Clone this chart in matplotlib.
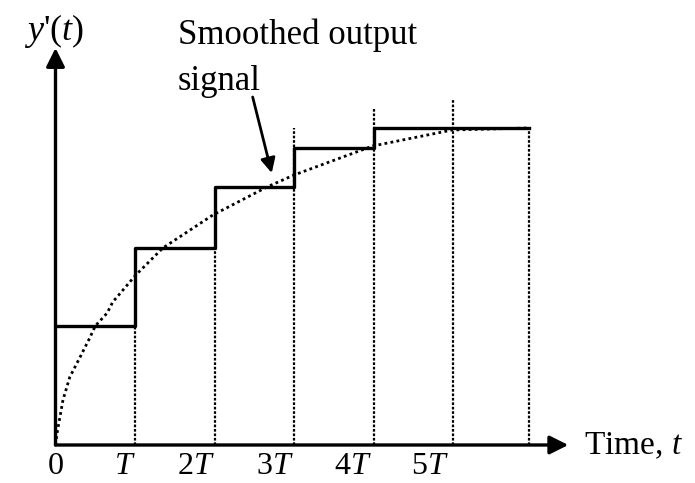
import matplotlib
matplotlib.use("Agg")
import matplotlib.pyplot as plt

plt.rcParams['font.family'] = ['Liberation Serif', 'DejaVu Serif']
plt.rcParams['mathtext.fontset'] = 'custom'
plt.rcParams['mathtext.rm'] = 'Liberation Serif'
plt.rcParams['mathtext.it'] = 'Liberation Serif:italic'

# dados (t em unidades de T)
tempos_degrau = [0, 1, 2, 3, 4, 5, 5.95]
niveis_degrau = [1.19, 1.97, 2.58, 2.97, 3.17, 3.17, 3.17]

# linhas verticais pontilhadas e seus topos
tempos_vert = [1, 2, 3, 4, 5, 5.95]
topos_vert = [1.19, 1.97, 3.17, 3.36, 3.46, 3.17]

# curva suavizada (pontos lidos)
t_curva = [0, 0.02, 0.094, 0.18, 0.31, 0.43, 0.5, 0.65, 0.72, 1.01, 1.35,
           1.98, 2.66, 3.0, 3.99, 4.99, 5.95]
y_curva = [0, 0.12, 0.45, 0.68, 0.88, 1.07, 1.19, 1.32, 1.43, 1.70, 1.97,
           2.30, 2.58, 2.70, 2.99, 3.15, 3.17]

rotulos = ['0', '$T$', '$2T$', '$3T$', '$4T$', '$5T$']
pos_rotulos = [0, 0.87, 1.77, 2.76, 3.74, 4.71]

fig = plt.figure(figsize=(6.95, 4.83), dpi=100)
ax = fig.add_axes([0, 0, 1, 1])
ax.set_xlim(-55.5 / 79.5, (695 - 55.5) / 79.5)
ax.set_ylim(-0.38, 4.45)
ax.axis('off')

# eixos com setas
ax.annotate('', xy=(6.45, 0), xytext=(0, 0),
            arrowprops=dict(arrowstyle='-|>', lw=2.4, color='k',
                            mutation_scale=28, shrinkA=0, shrinkB=0))
ax.annotate('', xy=(0, 3.97), xytext=(0, 0),
            arrowprops=dict(arrowstyle='-|>', lw=2.4, color='k',
                            mutation_scale=28, shrinkA=0, shrinkB=0))

ax.vlines(tempos_vert, 0, topos_vert, colors='k', lw=1.6,
          linestyles=(0, (1.2, 0.8)))
ax.plot(t_curva, y_curva, color='k', lw=2.0, linestyle=(0, (1, 1.2)))
ax.step(tempos_degrau, niveis_degrau, where='post', color='k', lw=2.4)

# rótulos do eixo x
for p, r in zip(pos_rotulos, rotulos):
    ax.text(p, -0.22, r, ha='center', va='center', fontsize=23)

ax.text(6.65, -0.01, 'Time, $t$', ha='left', va='center', fontsize=24)
ax.text(-0.02, 4.14, "$y$'$(t)$", ha='center', va='center', fontsize=26)

ax.text(1.54, 4.27, 'Smoothed output\nsignal', ha='left', va='top',
        fontsize=25, linespacing=1.55)
ax.annotate('', xy=(2.72, 2.72), xytext=(2.48, 3.48),
            arrowprops=dict(arrowstyle='-|>', lw=2.0, color='k',
                            mutation_scale=22, shrinkA=0, shrinkB=0))

fig.savefig('out.png', dpi=100)
